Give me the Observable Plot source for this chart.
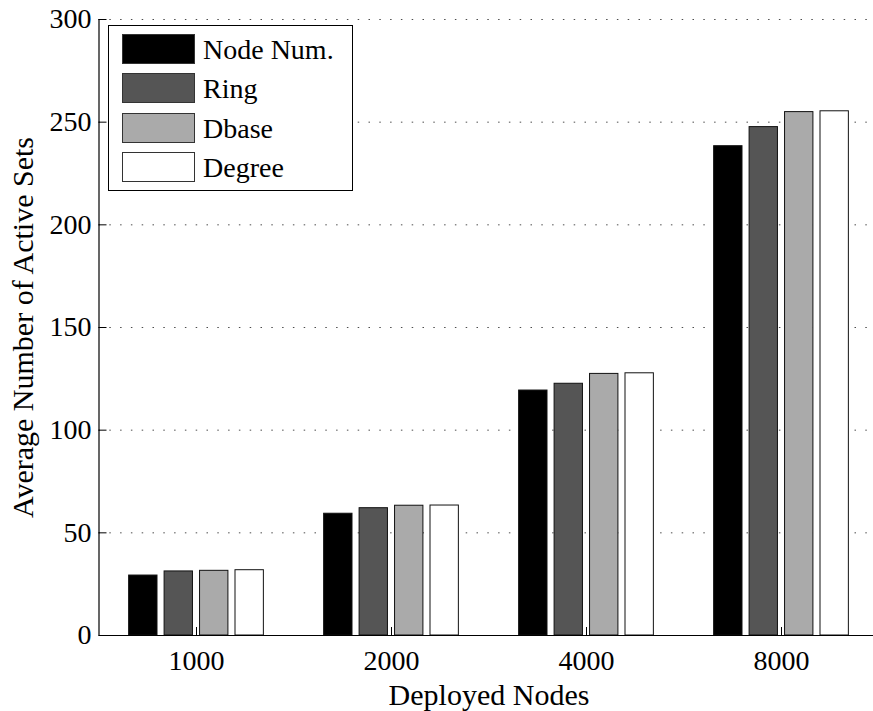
<!DOCTYPE html>
<html>
<head>
<meta charset="utf-8">
<script src="https://cdn.jsdelivr.net/npm/d3@7"></script>
<script src="https://cdn.jsdelivr.net/npm/@observablehq/plot@0.6"></script>
<style>
  body { margin: 0; background: #fff; }
  #chart { position: relative; width: 873px; height: 711px; overflow: hidden;
           font-family: "Liberation Serif", "Times New Roman", serif; }
  .legend { position: absolute; left: 108px; top: 25px; width: 245px; height: 166px;
            border: 1px solid #000; background: #fff; box-sizing: border-box; }
  .legend .row { position: absolute; left: 13px; height: 30px; }
  .legend .sw { position: absolute; left: 0; top: 0; width: 73px; height: 30px;
                box-sizing: border-box; border: 1px solid #333; }
  .legend .lab { position: absolute; left: 81px; top: 1px; line-height: 30px;
                 font-size: 28px; white-space: nowrap; color: #000; }
</style>
</head>
<body>
<div id="chart"></div>
<script>
// Deployed node counts (x categories) and the four schemes compared
const categories = ["1000", "2000", "4000", "8000"];
const series = ["Node Num.", "Ring", "Dbase", "Degree"];
const colors = ["#000000", "#555555", "#aaaaaa", "#ffffff"];

// Average number of active sets per scheme, one value per category
const nodeNum = [29.2, 59.3, 119.3, 238.3];
const ring    = [31.2, 62.0, 122.6, 247.6];
const dbase   = [31.5, 63.2, 127.4, 254.9];
const degree  = [31.8, 63.3, 127.7, 255.3];

const yTicks = [0, 50, 100, 150, 200, 250, 300];
const yTitle = "Average Number of Active Sets";
const xTitle = "Deployed Nodes";

const values = [nodeNum, ring, dbase, degree];
const rows = categories.flatMap((c, i) =>
  series.map((s, j) => ({category: c, series: s, value: values[j][i], gi: i, sj: j}))
);

// grouped-bar layout: groups sit at 1..n, bars share most of each slot
const n = series.length;
const groupWidth = Math.min(0.8, n / (n + 1.5));
const spacing = groupWidth / n;
const barW = 0.8 * spacing;
const center = d => d.gi + 1 + (d.sj - (n - 1) / 2) * spacing;

const marginLeft = 98.5, marginRight = -5.5, marginTop = 19, marginBottom = 76;
const W = 873, H = 711;
const frameW = W - marginLeft - marginRight;
const frameH = H - marginTop - marginBottom;
const serif = "\"Liberation Serif\", \"Times New Roman\", serif";

const chart = Plot.plot({
  width: W,
  height: H,
  marginLeft, marginRight, marginTop, marginBottom,
  style: {fontFamily: serif, fontSize: "28px", background: "#fff", color: "#000"},
  x: {domain: [0.5, categories.length + 0.5]},
  y: {domain: [0, 300]},
  color: {domain: series, range: colors},
  marks: [
    // dotted horizontal grid
    Plot.ruleY(yTicks.filter(v => v > 0), {stroke: "#000", strokeWidth: 1, strokeOpacity: 0.7, strokeDasharray: "1.5,9.3"}),
    // inward tick marks
    Plot.ruleX(categories.map((c, i) => i + 1), {stroke: "#000", insetTop: frameH - 8}),
    Plot.ruleY(yTicks, {stroke: "#000", insetRight: frameW - 8}),
    Plot.rect(rows, {
      x1: d => center(d) - barW / 2,
      x2: d => center(d) + barW / 2,
      y1: 0,
      y2: "value",
      fill: "series",
      stroke: "#111",
      strokeWidth: 1
    }),
    Plot.axisY(yTicks, {tickSize: 0, tickPadding: 7.5, label: null, fontSize: 28, fontFamily: serif}),
    Plot.axisX(categories.map((c, i) => i + 1), {tickSize: 0, tickPadding: 15, label: null, fontSize: 28, fontFamily: serif,
      tickFormat: v => categories[v - 1]}),
    Plot.ruleY([0], {stroke: "#000", strokeWidth: 1.2}),
    Plot.ruleX([0.5], {stroke: "#000", strokeWidth: 1.2}),
    Plot.text([yTitle], {frameAnchor: "left", rotate: -90, dx: -87, textAnchor: "middle", lineAnchor: "top",
      fontSize: 30, fontFamily: serif, text: d => d}),
    Plot.text([xTitle], {frameAnchor: "bottom", dy: 48, textAnchor: "middle", lineAnchor: "top",
      fontSize: 30, fontFamily: serif, text: d => d})
  ]
});

const host = document.getElementById("chart");
host.appendChild(chart);

// legend box in the upper-left corner of the plot area
const legend = document.createElement("div");
legend.className = "legend";
series.forEach((s, j) => {
  const row = document.createElement("div");
  row.className = "row";
  row.style.top = (8 + j * 39.3) + "px";
  const sw = document.createElement("div");
  sw.className = "sw";
  sw.style.background = colors[j];
  const lab = document.createElement("div");
  lab.className = "lab";
  lab.style.fontFamily = serif;
  lab.textContent = s;
  row.appendChild(sw);
  row.appendChild(lab);
  legend.appendChild(row);
});
host.appendChild(legend);
</script>
</body>
</html>
